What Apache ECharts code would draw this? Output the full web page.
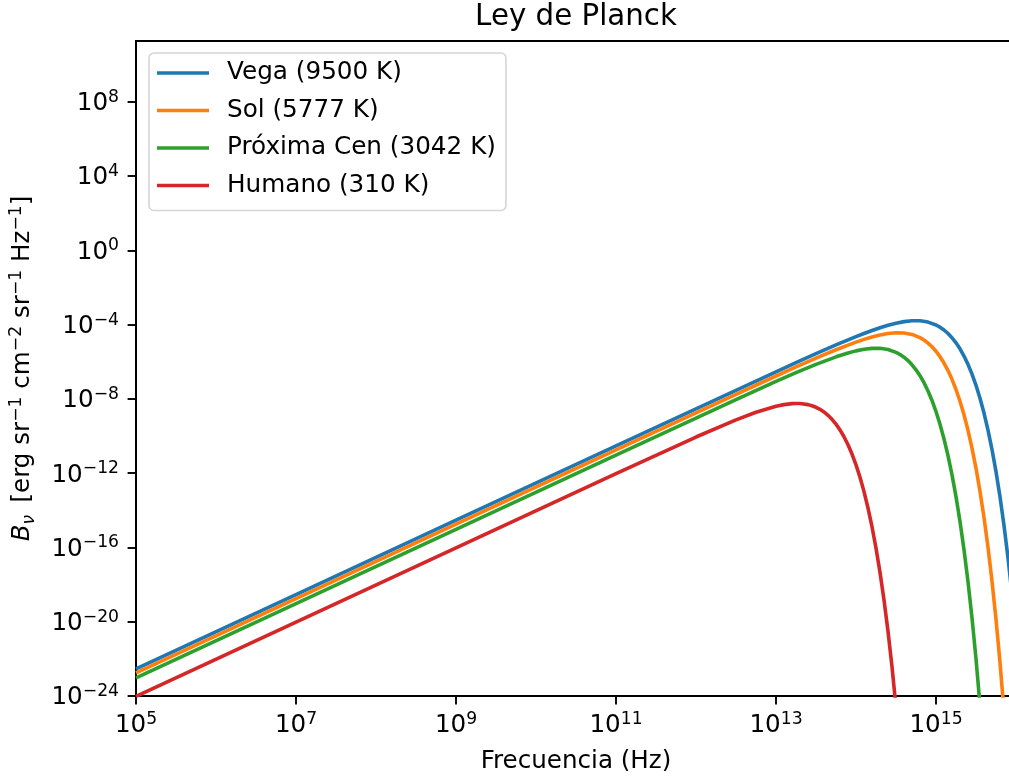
<!DOCTYPE html>
<html>
<head>
<meta charset="utf-8">
<script src="https://cdn.jsdelivr.net/npm/echarts@6/dist/echarts.min.js"></script>
<style>html,body{margin:0;padding:0;background:#fff}#chart{width:1009px;height:782px}</style>
</head>
<body>
<div id="chart"></div>
<script>
// ---- data (log10 of frequency in Hz, log10 of B_nu) ----
const seriesNames = ['Vega (9500 K)', 'Sol (5777 K)', 'Próxima Cen (3042 K)', 'Humano (310 K)'];
const seriesColors = ['#1f77b4', '#ff7f0e', '#2ca02c', '#d62728'];

const vegaLogNu = [5, 7, 9, 11, 12, 12.5, 13, 13.25, 13.5, 13.75, 14, 14.1, 14.2, 14.3, 14.4, 14.5, 14.6, 14.7, 14.8, 14.9,
  15, 15.05, 15.1, 15.15, 15.2, 15.25, 15.3, 15.35, 15.4, 15.45, 15.5, 15.55, 15.6, 15.65, 15.7, 15.75, 15.8, 15.85, 15.9, 15.95, 16];
const vegaLogB  = [-22.535, -18.535, -14.535, -10.535, -8.536, -7.538, -6.546, -6.054, -5.570, -5.098, -4.649, -4.480, -4.320, -4.172, -4.039, -3.927, -3.842, -3.795, -3.797, -3.866,
  -4.023, -4.141, -4.292, -4.480, -4.709, -4.983, -5.308, -5.693, -6.143, -6.665, -7.269, -7.966, -8.766, -9.681, -10.728, -11.919, -13.276, -14.814, -16.559, -18.536, -20.772];

const solLogNu = [5, 7, 9, 11, 12, 12.5, 13, 13.25, 13.5, 13.75, 14, 14.1, 14.2, 14.3, 14.4, 14.5, 14.6, 14.7, 14.8,
  14.85, 14.9, 14.95, 15, 15.05, 15.1, 15.15, 15.2, 15.25, 15.3, 15.35, 15.4, 15.45, 15.5, 15.55, 15.6, 15.65, 15.7, 15.75, 15.8, 15.85, 15.9];
const solLogB  = [-22.751, -18.751, -14.751, -10.751, -8.752, -7.756, -6.769, -6.283, -5.809, -5.356, -4.943, -4.797, -4.667, -4.559, -4.480, -4.439, -4.451, -4.532, -4.705,
  -4.834, -4.996, -5.196, -5.439, -5.729, -6.073, -6.477, -6.949, -7.497, -8.129, -8.858, -9.694, -10.649, -11.739, -12.981, -14.393, -15.996, -17.813, -19.869, -22.197, -24.822, -27.787];

const proxLogNu = [5, 7, 9, 11, 12, 12.5, 13, 13.25, 13.5, 13.75, 13.8, 13.9, 14, 14.1, 14.2, 14.3, 14.4,
  14.5, 14.55, 14.6, 14.65, 14.7, 14.75, 14.8, 14.85, 14.9, 14.95, 15, 15.05, 15.1, 15.15, 15.2, 15.25, 15.3, 15.35, 15.4, 15.45, 15.5, 15.55, 15.6];
const proxLogB  = [-23.029, -19.029, -15.029, -11.029, -9.032, -8.040, -7.064, -6.591, -6.142, -5.736, -5.663, -5.529, -5.416, -5.329, -5.280, -5.279, -5.344,
  -5.495, -5.610, -5.758, -5.941, -6.165, -6.434, -6.754, -7.131, -7.573, -8.087, -8.682, -9.368, -10.157, -11.059, -12.090, -13.265, -14.602, -16.119, -17.842, -19.791, -21.997, -24.491, -27.307];

const humLogNu = [5, 7, 9, 11, 12, 12.5, 12.75, 13, 13.1, 13.2, 13.25, 13.3, 13.4,
  13.45, 13.5, 13.55, 13.6, 13.65, 13.7, 13.75, 13.8, 13.85, 13.9, 13.95, 14, 14.05, 14.1, 14.15, 14.2, 14.25, 14.3, 14.35, 14.4, 14.45, 14.5];
const humLogB  = [-24.021, -20.021, -16.021, -12.024, -10.055, -9.131, -8.723, -8.400, -8.311, -8.257, -8.248, -8.252, -8.311,
  -8.370, -8.454, -8.565, -8.706, -8.884, -9.100, -9.361, -9.673, -10.041, -10.471, -10.973, -11.554, -12.224, -12.995, -13.877, -14.886, -16.036, -17.345, -18.832, -20.518, -22.428, -24.590];

const xTickValues = [1e5, 1e7, 1e9, 1e11, 1e13, 1e15];
const yTickValues = [1e-24, 1e-20, 1e-16, 1e-12, 1e-8, 1e-4, 1e0, 1e4, 1e8];
const xMin = 1e5, xMax = 1e16;
const yMin = 1e-24, yMax = 1.86e11;

// ---- build ----
const FONT = 'DejaVu Sans';
function toPairs(lx, ly) { return lx.map((v, i) => [Math.pow(10, v), Math.pow(10, ly[i])]); }
const allData = [toPairs(vegaLogNu, vegaLogB), toPairs(solLogNu, solLogB), toPairs(proxLogNu, proxLogB), toPairs(humLogNu, humLogB)];

function powLabel(v) {
  const e = Math.round(Math.log10(v));
  return '{b|10}{s|' + (e < 0 ? '\u2212' + (-e) : String(e)) + '}';
}
const tickRich = {
  b: { fontFamily: FONT, fontSize: 24.6, lineHeight: 30, color: '#000' },
  s: { fontFamily: FONT, fontSize: 17.2, lineHeight: 16, verticalAlign: 'top', color: '#000' }
};
const axisLineStyle = { color: '#000', width: 1.9 };

const chart = echarts.init(document.getElementById('chart'), null, { renderer: 'canvas' });
chart.setOption({
  animation: false,
  backgroundColor: '#fff',
  title: {
    text: 'Ley de Planck',
    left: 576, top: 0, padding: 0, textAlign: 'center',
    textStyle: { fontFamily: FONT, fontSize: 29.3, fontWeight: 'normal', color: '#000', lineHeight: 34 }
  },
  grid: {
    left: 136, top: 41, width: 880, height: 655,
    show: true, borderColor: '#000', borderWidth: 1.9, backgroundColor: 'transparent',
    containLabel: false, outerBoundsMode: 'none'
  },
  legend: {
    orient: 'vertical', left: 149, top: 53,
    data: seriesNames,
    icon: 'rect', itemWidth: 52, itemHeight: 3.6, itemGap: 7.5,
    padding: [5, 10, 10, 8],
    backgroundColor: 'rgba(255,255,255,0.8)', borderColor: '#d5d5d5', borderWidth: 1.6, borderRadius: 5,
    textStyle: { fontFamily: FONT, fontSize: 24.7, lineHeight: 30, color: '#000', padding: [0, 0, 0, 13] }
  },
  xAxis: {
    type: 'log', logBase: 10, min: xMin, max: xMax,
    name: 'Frecuencia (Hz)', nameLocation: 'middle', nameGap: 51, nameMoveOverlap: false,
    nameTextStyle: { fontFamily: FONT, fontSize: 24.6, lineHeight: 30, color: '#000' },
    axisLine: { show: true, lineStyle: axisLineStyle },
    axisTick: { show: true, inside: false, length: 8.4, lineStyle: axisLineStyle, customValues: xTickValues },
    axisLabel: { show: true, margin: 15, formatter: powLabel, rich: tickRich, customValues: xTickValues,
      fontFamily: FONT, fontSize: 24.6, lineHeight: 30, color: '#000', hideOverlap: false },
    splitLine: { show: false }, minorTick: { show: false }, minorSplitLine: { show: false }
  },
  yAxis: {
    type: 'log', logBase: 10, min: yMin, max: yMax,
    name: '{i|B}{sub|\u03bd}\u2002[erg sr{sup|\u22121} cm{sup|\u22122} sr{sup|\u22121} Hz{sup|\u22121}]',
    nameLocation: 'middle', nameGap: 98, nameMoveOverlap: false,
    nameTextStyle: {
      fontFamily: FONT, fontSize: 24.6, lineHeight: 30, color: '#000',
      rich: {
        i: { fontFamily: FONT, fontStyle: 'italic', fontSize: 24.6, lineHeight: 30, color: '#000' },
        sub: { fontFamily: FONT, fontStyle: 'italic', fontSize: 17.2, lineHeight: 18, verticalAlign: 'bottom', color: '#000' },
        sup: { fontFamily: FONT, fontSize: 17.2, lineHeight: 16, verticalAlign: 'top', color: '#000' }
      }
    },
    axisLine: { show: true, lineStyle: axisLineStyle },
    axisTick: { show: true, inside: false, length: 8.4, lineStyle: axisLineStyle, customValues: yTickValues },
    axisLabel: { show: true, margin: 17, formatter: powLabel, rich: tickRich, customValues: yTickValues,
      padding: [4, 0, 0, 0], fontFamily: FONT, fontSize: 24.6, lineHeight: 30, color: '#000', hideOverlap: false },
    splitLine: { show: false }, minorTick: { show: false }, minorSplitLine: { show: false }
  },
  series: seriesNames.map((name, i) => ({
    name: name,
    type: 'line',
    data: allData[i],
    color: seriesColors[i],
    showSymbol: false,
    symbol: 'none',
    clip: true,
    smooth: false,
    lineStyle: { color: seriesColors[i], width: 3.6, cap: 'butt', join: 'round' },
    emphasis: { disabled: true },
    z: 2 + i
  }))
});
</script>
</body>
</html>
